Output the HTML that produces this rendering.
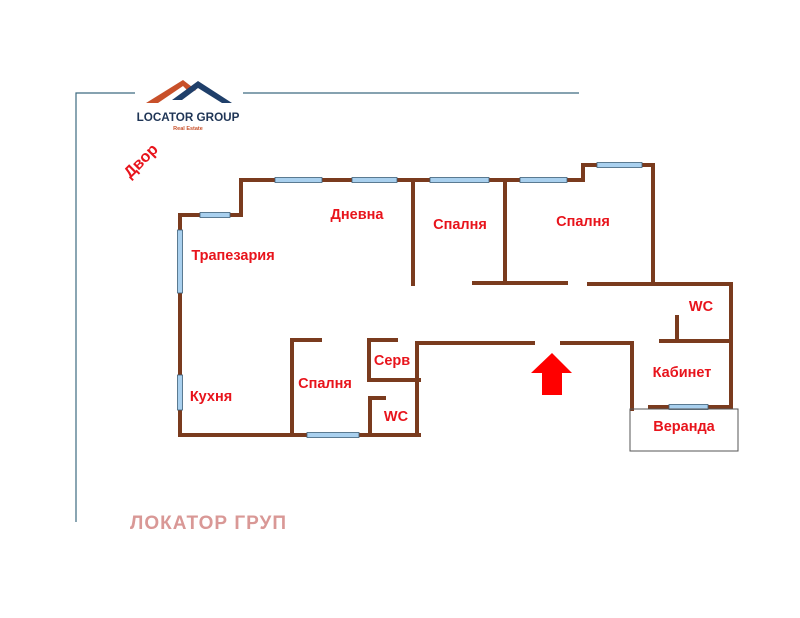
<!DOCTYPE html>
<html><head><meta charset="utf-8"><style>
html,body{margin:0;padding:0;background:#fff;}
svg{display:block;}
.l{font-family:"Liberation Sans","DejaVu Sans",sans-serif;font-weight:bold;fill:#e8141c;font-size:14.5px;}
</style></head><body>
<svg width="800" height="618" viewBox="0 0 800 618" xmlns="http://www.w3.org/2000/svg">
<g stroke="#3d6a80" stroke-width="1.2" fill="none">
<polyline points="135,93 76,93 76,522"/>
<line x1="243" y1="93" x2="579" y2="93"/>
</g>
<polygon points="146,103 183,80 196,90 190,93 183,86 158,103" fill="#c8502a"/>
<polygon points="172,100 198,81 232,103 222,103 198,88 182,100" fill="#1f3f6a"/>
<text x="188" y="121" text-anchor="middle" style="font-family:'Liberation Sans',sans-serif;font-weight:bold;font-size:11.7px;fill:#1f3556">LOCATOR GROUP</text>
<text x="188" y="130" text-anchor="middle" style="font-family:'Liberation Sans',sans-serif;font-weight:bold;font-size:5.5px;fill:#c8502a">Real Estate</text>
<g stroke="#7a3b1e" stroke-width="4" fill="none" stroke-linecap="square">
<polyline points="180,435 180,215 241,215 241,180 583,180 583,165 653,165 653,283"/>
<line x1="413" y1="180" x2="413" y2="284"/>
<line x1="505" y1="180" x2="505" y2="282"/>
<line x1="474" y1="283" x2="566" y2="283"/>
<polyline points="589,284 731,284 731,407 650,407"/>
<line x1="661" y1="341" x2="729" y2="341"/>
<line x1="677" y1="317" x2="677" y2="341"/>
<polyline points="562,343 632,343 632,409"/>
<polyline points="533,343 417,343 417,435"/>
<line x1="180" y1="435" x2="419" y2="435"/>
<polyline points="320,340 292,340 292,435"/>
<polyline points="396,340 369,340 369,380 419,380"/>
<polyline points="384,398 370,398 370,435"/>
</g>
<g fill="#a9d0ee" stroke="#3d5f78" stroke-width="0.8">
<rect x="200" y="212.5" width="30" height="5"/>
<rect x="275" y="177.5" width="47" height="5"/>
<rect x="352" y="177.5" width="45" height="5"/>
<rect x="430" y="177.5" width="59" height="5"/>
<rect x="520" y="177.5" width="47" height="5"/>
<rect x="597" y="162.5" width="45" height="5"/>
<rect x="177.5" y="230" width="5" height="63"/>
<rect x="177.5" y="375" width="5" height="35"/>
<rect x="307" y="432.5" width="52" height="5"/>
<rect x="669" y="404.5" width="39" height="5"/>
</g>
<rect x="630" y="409" width="108" height="42" fill="none" stroke="#555" stroke-width="1"/>
<polygon points="552,353 572,373 562,373 562,395 542,395 542,373 531,373" fill="#f00"/>
<text class="l" x="141" y="166" text-anchor="middle" transform="rotate(-45 141 161)" style="font-size:16px">Двор</text>
<text class="l" x="357" y="219" text-anchor="middle">Дневна</text>
<text class="l" x="460" y="229" text-anchor="middle">Спалня</text>
<text class="l" x="583" y="226" text-anchor="middle">Спалня</text>
<text class="l" x="233" y="260" text-anchor="middle">Трапезария</text>
<text class="l" x="211" y="401" text-anchor="middle">Кухня</text>
<text class="l" x="325" y="388" text-anchor="middle">Спалня</text>
<text class="l" x="392" y="365" text-anchor="middle">Серв</text>
<text class="l" x="396" y="421" text-anchor="middle">WC</text>
<text class="l" x="701" y="311" text-anchor="middle">WC</text>
<text class="l" x="682" y="377" text-anchor="middle">Кабинет</text>
<text class="l" x="684" y="431" text-anchor="middle">Веранда</text>
<text x="130" y="529" style="font-family:'Liberation Sans',sans-serif;font-weight:bold;font-size:19px;letter-spacing:1px;fill:#d99896">ЛОКАТОР ГРУП</text>
</svg>
</body></html>
